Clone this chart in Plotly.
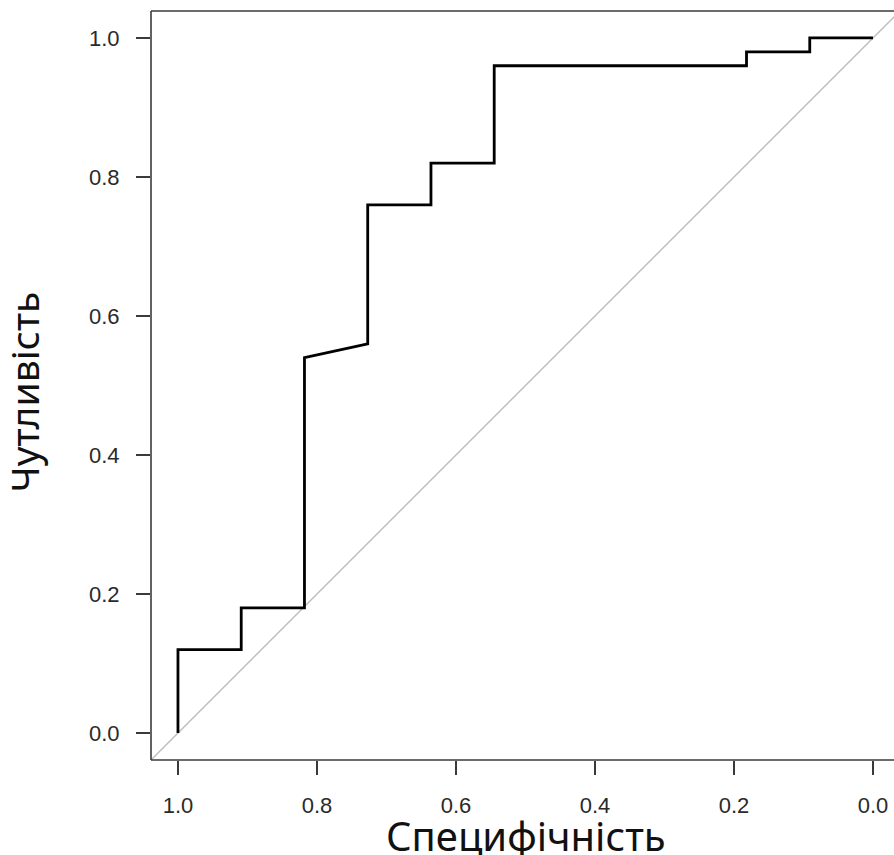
import plotly.graph_objects as go

# ROC curve data (specificity, sensitivity)
specificity = [1.0, 1.0, 0.909, 0.909, 0.818, 0.818, 0.727, 0.727, 0.636, 0.636,
               0.545, 0.545, 0.182, 0.182, 0.091, 0.091, 0.0]
sensitivity = [0.0, 0.12, 0.12, 0.18, 0.18, 0.54, 0.56, 0.76, 0.76, 0.82,
               0.82, 0.96, 0.96, 0.98, 0.98, 1.0, 1.0]
diag_x = [1.1, -0.1]
diag_y = [-0.1, 1.1]
tick_vals = [0.0, 0.2, 0.4, 0.6, 0.8, 1.0]
tick_text = ["0.0", "0.2", "0.4", "0.6", "0.8", "1.0"]

fig = go.Figure()
fig.add_trace(go.Scatter(x=diag_x, y=diag_y, mode="lines",
                         line=dict(color="#bdbdbd", width=1.4),
                         hoverinfo="skip", showlegend=False))
fig.add_trace(go.Scatter(x=specificity, y=sensitivity, mode="lines",
                         line=dict(color="black", width=2.8),
                         showlegend=False))

tickfont = dict(family="Liberation Sans, Arial", size=22, color="#2a2a2a")
fig.update_xaxes(range=[1.0388, -0.0302], tickvals=tick_vals, ticktext=tick_text,
                 ticks="outside", ticklen=14, tickwidth=1.5, tickcolor="#3a3a3a",
                 showgrid=False, zeroline=False, showline=False,
                 tickfont=tickfont, ticklabelstandoff=12)
fig.update_yaxes(range=[-0.0388, 1.0388], tickvals=tick_vals, ticktext=tick_text,
                 ticks="outside", ticklen=14, tickwidth=1.5, tickcolor="#3a3a3a",
                 showgrid=False, zeroline=False, showline=False,
                 tickfont=tickfont, ticklabelstandoff=12)

frame = dict(color="#3a3a3a", width=1.6)
fig.add_shape(type="line", xref="paper", yref="paper", x0=0, x1=0, y0=0, y1=1, line=frame)
fig.add_shape(type="line", xref="paper", yref="paper", x0=0, x1=1.02, y0=1, y1=1, line=frame)
fig.add_shape(type="line", xref="paper", yref="paper", x0=0, x1=1.02, y0=0, y1=0, line=frame)

fig.add_annotation(text="Специфічність", xref="paper", yref="paper",
                   x=0.5 + 3/743, y=0, yshift=-46, xanchor="center", yanchor="top",
                   showarrow=False,
                   font=dict(family="Noto Sans, Open Sans", size=40, color="#111"))
fig.add_annotation(text="Чутливість", xref="paper", yref="paper",
                   x=0, xshift=-128, y=0.5 - 7/749, textangle=-90,
                   xanchor="center", yanchor="middle",
                   showarrow=False,
                   font=dict(family="Noto Sans, Open Sans", size=39, color="#111"))

fig.update_layout(width=894, height=855,
                  margin=dict(l=151, r=0, t=11, b=95),
                  plot_bgcolor="white", paper_bgcolor="white")
fig.write_html("out.html", config={"displayModeBar": False},
               post_script="document.body.style.margin='0';document.body.style.overflow='hidden';")
